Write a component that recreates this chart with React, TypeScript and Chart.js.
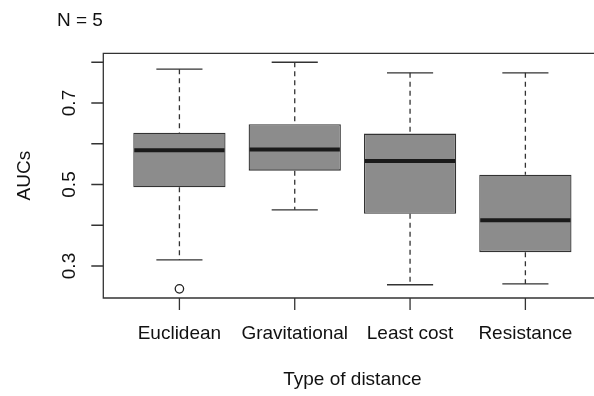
import React, { useEffect, useRef } from "react";
import { Chart, registerables } from "chart.js";

Chart.register(...registerables);

const categories = ["Euclidean", "Gravitational", "Least cost", "Resistance"];
const lowerWhisker = [0.315, 0.438, 0.254, 0.256];
const q1 = [0.493, 0.534, 0.428, 0.334];
const medians = [0.584, 0.586, 0.558, 0.412];
const q3 = [0.627, 0.648, 0.625, 0.524];
const upperWhisker = [0.783, 0.8, 0.774, 0.774];
const outliers = [{ cat: 1, value: 0.244 }];
const yTicks = [0.3, 0.4, 0.5, 0.6, 0.7, 0.8];
const yTickLabels = ["0.3", "", "0.5", "", "0.7", ""];
const xTitle = "Type of distance";
const yTitle = "AUCs";
const topNote = "N = 5";

const FONT = "19px 'Liberation Sans', Arial, Helvetica, sans-serif";
const LINE = "#333333";

const boxPlugin = {
  id: "rbox",
  beforeDatasetsDraw(chart: any) {
    const { ctx, scales } = chart;
    const xs = scales.x, ys = scales.y;
    ctx.save();
    ctx.strokeStyle = LINE;
    ctx.lineWidth = 1.3;
    categories.forEach((_, i) => {
      const cx = xs.getPixelForValue(i + 1);
      const half = xs.getPixelForValue(1.2) - xs.getPixelForValue(1);
      ctx.setLineDash([5, 4]);
      ctx.beginPath();
      ctx.moveTo(cx, ys.getPixelForValue(upperWhisker[i]));
      ctx.lineTo(cx, ys.getPixelForValue(q3[i]));
      ctx.moveTo(cx, ys.getPixelForValue(q1[i]));
      ctx.lineTo(cx, ys.getPixelForValue(lowerWhisker[i]));
      ctx.stroke();
      ctx.setLineDash([]);
      ctx.beginPath();
      ctx.moveTo(cx - half, ys.getPixelForValue(upperWhisker[i]));
      ctx.lineTo(cx + half, ys.getPixelForValue(upperWhisker[i]));
      ctx.moveTo(cx - half, ys.getPixelForValue(lowerWhisker[i]));
      ctx.lineTo(cx + half, ys.getPixelForValue(lowerWhisker[i]));
      ctx.stroke();
    });
    ctx.restore();
  },
  afterDatasetsDraw(chart: any) {
    const { ctx, scales } = chart;
    const xs = scales.x, ys = scales.y;
    ctx.save();
    ctx.strokeStyle = "#1a1a1a";
    ctx.lineWidth = 4;
    categories.forEach((_, i) => {
      const l = xs.getPixelForValue(i + 1 - 0.4);
      const r = xs.getPixelForValue(i + 1 + 0.4);
      const y = ys.getPixelForValue(medians[i]);
      ctx.beginPath();
      ctx.moveTo(l + 1, y);
      ctx.lineTo(r - 1, y);
      ctx.stroke();
    });
    ctx.restore();
  },
  afterDraw(chart: any) {
    const { ctx, scales, chartArea } = chart;
    const xs = scales.x, ys = scales.y;
    const { left, top, bottom } = chartArea;
    const right = chart.width + 10;
    ctx.save();
    ctx.strokeStyle = LINE;
    ctx.lineWidth = 1.3;
    ctx.beginPath();
    ctx.moveTo(right, top);
    ctx.lineTo(left, top);
    ctx.lineTo(left, bottom);
    ctx.lineTo(right, bottom);
    ctx.stroke();
    ctx.beginPath();
    yTicks.forEach((v) => {
      const y = ys.getPixelForValue(v);
      ctx.moveTo(left - 12, y);
      ctx.lineTo(left, y);
    });
    categories.forEach((_, i) => {
      const x = xs.getPixelForValue(i + 1);
      ctx.moveTo(x, bottom);
      ctx.lineTo(x, bottom + 12);
    });
    ctx.stroke();

    ctx.fillStyle = "#111";
    ctx.font = FONT;
    ctx.textAlign = "center";
    ctx.textBaseline = "middle";
    yTicks.forEach((v, i) => {
      if (!yTickLabels[i]) return;
      const y = ys.getPixelForValue(v);
      ctx.save();
      ctx.translate(70, y);
      ctx.rotate(-Math.PI / 2);
      ctx.fillText(yTickLabels[i], 0, 0);
      ctx.restore();
    });
    categories.forEach((c, i) => {
      ctx.fillText(c, xs.getPixelForValue(i + 1), 334);
    });
    const plotCenterX = (left + xs.getPixelForValue(4.66)) / 2;
    ctx.fillText(xTitle, plotCenterX, 380);
    ctx.save();
    ctx.translate(25, (top + bottom) / 2);
    ctx.rotate(-Math.PI / 2);
    ctx.fillText(yTitle, 0, 0);
    ctx.restore();
    ctx.textAlign = "left";
    ctx.fillText(topNote, 57, 21);
    ctx.restore();
  },
};

export default function App() {
  const ref = useRef<HTMLCanvasElement>(null);
  useEffect(() => {
    if (!ref.current) return;
    const chart = new Chart(ref.current, {
      type: "bar",
      data: {
        datasets: [
          {
            type: "bar",
            data: categories.map((_, i) => ({ x: i + 1, y: [q1[i], q3[i]] })) as any,
            backgroundColor: "#8c8c8c",
            borderColor: LINE,
            borderWidth: 1.3,
            borderSkipped: false,
            barPercentage: 0.8,
            categoryPercentage: 1,
          } as any,
          {
            type: "scatter",
            data: outliers.map((o) => ({ x: o.cat, y: o.value })),
            pointRadius: 4.2,
            pointBackgroundColor: "rgba(0,0,0,0)",
            pointBorderColor: "#222",
            pointBorderWidth: 1.3,
          } as any,
        ],
      },
      options: {
        responsive: false,
        animation: false,
        layout: { autoPadding: false, padding: { left: 103.3, top: 53.3, right: 0, bottom: 98 } },
        plugins: { legend: { display: false }, tooltip: { enabled: false } },
        scales: {
          x: {
            type: "linear",
            min: 0.34,
            max: 4.595,
            offset: false,
            display: false,
            afterBuildTicks: (scale: any) => {
              scale.ticks = categories.map((_, i) => ({ value: i + 1 }));
            },
          } as any,
          y: { type: "linear", min: 0.2215, max: 0.822, display: false },
        },
      } as any,
      plugins: [boxPlugin],
    });
    return () => chart.destroy();
  }, []);
  return (
    <div style={{ position: "fixed", left: 0, top: 0, width: 594, height: 396, background: "#fff" }}>
      <canvas ref={ref} width={594} height={396} style={{ display: "block" }} />
    </div>
  );
}
